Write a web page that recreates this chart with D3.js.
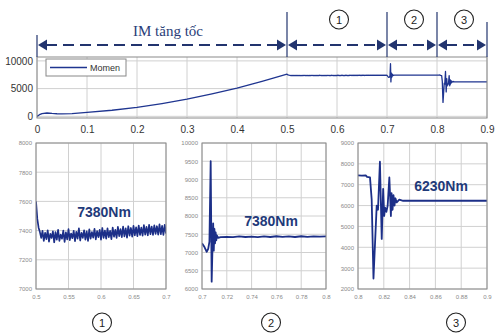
<!DOCTYPE html>
<html>
<head>
<meta charset="utf-8">
<script src="https://cdn.jsdelivr.net/npm/d3@7"></script>
<style>
  body { margin: 0; background: #fff; }
  svg { display: block; font-family: "Liberation Sans", Arial, sans-serif; }
</style>
</head>
<body>
<div id="chart"></div>
<script>
// top plot: acceleration ramp (time s, torque Nm)
var rampT = [0, 0.005, 0.01, 0.02, 0.03, 0.04, 0.05, 0.07, 0.1, 0.15, 0.2, 0.25, 0.3, 0.35, 0.4, 0.45, 0.5];
var rampV = [0, 300, 500, 600, 520, 470, 450, 500, 720, 1100, 1600, 2300, 3100, 4050, 5100, 6300, 7600];

// zone 1: steady torque, sampled every 2 ms from 0.5 s
var p1Start = 0.5, p1Step = 0.002;
var p1V = [7600, 7480, 7420, 7390, 7350,
  7398, 7330, 7385, 7342, 7402, 7325, 7378, 7350, 7395, 7320, 7390, 7338, 7405, 7330, 7372, 7345, 7400, 7322, 7388, 7340,
  7410, 7335, 7380, 7348, 7398, 7328, 7392, 7345, 7415, 7332, 7385, 7350, 7402, 7338, 7395, 7330, 7408, 7345, 7390, 7352,
  7412, 7340, 7396, 7355, 7405, 7338, 7418, 7350, 7400, 7345, 7415, 7355, 7398, 7342, 7420, 7358, 7405, 7350, 7425, 7362,
  7410, 7355, 7428, 7360, 7415, 7352, 7430, 7365, 7418, 7358, 7432, 7368, 7422, 7362, 7435, 7370, 7420, 7365, 7438, 7372,
  7425, 7368, 7440, 7375, 7428, 7370, 7436, 7378, 7430, 7372, 7442, 7375, 7432, 7370, 7440, 7380];

// zone 2
var p2T = [0.700, 0.702, 0.7038, 0.705, 0.706, 0.707, 0.7078, 0.7085, 0.709, 0.7095,
  0.710, 0.7105, 0.711, 0.7115, 0.712, 0.713, 0.715, 0.72, 0.725, 0.73,
  0.735, 0.74, 0.745, 0.75, 0.755, 0.76, 0.765, 0.77, 0.775, 0.78,
  0.785, 0.79, 0.795, 0.8];
var p2V = [7250, 7150, 7020, 7100, 7300, 9500, 6200, 7200, 7800, 7050,
  7650, 7250, 7550, 7330, 7470, 7400, 7420, 7430, 7420, 7440,
  7425, 7435, 7420, 7440, 7425, 7445, 7430, 7440, 7425, 7445,
  7430, 7440, 7435, 7440];

// zone 3
var p3T = [0.8, 0.803, 0.806, 0.807, 0.8093, 0.8106, 0.812, 0.8145, 0.8155, 0.817,
  0.8184, 0.8195, 0.8203, 0.821, 0.822, 0.823, 0.8243, 0.8255, 0.826, 0.8268,
  0.8275, 0.8283, 0.829, 0.830, 0.832, 0.835, 0.84, 0.85, 0.86, 0.87,
  0.88, 0.89, 0.9];
var p3V = [7450, 7440, 7450, 7380, 7350, 6300, 2500, 6000, 5800, 8100,
  4400, 6800, 5500, 5900, 5700, 6000, 7350, 5500, 6600, 5800,
  6500, 6000, 6350, 6150, 6280, 6230, 6230, 6230, 6230, 6230,
  6230, 6230, 6230];

// zone boundaries and labels
var zoneEdges = [0, 0.5, 0.7, 0.8, 0.9];
var zoneNames = ["IM tăng tốc", "1", "2", "3"];
var zoneValues = ["7380Nm", "7380Nm", "6230Nm"];

var topXTicks = [0, 0.1, 0.2, 0.3, 0.4, 0.5, 0.6, 0.7, 0.8, 0.9];
var topYTicks = [0, 5000, 10000];
var p1XTicks = [0.5, 0.55, 0.6, 0.65, 0.7];
var p1YTicks = [7000, 7200, 7400, 7600, 7800, 8000];
var p2XTicks = [0.7, 0.72, 0.74, 0.76, 0.78, 0.8];
var p2YTicks = [6000, 6500, 7000, 7500, 8000, 8500, 9000, 9500, 10000];
var p3XTicks = [0.8, 0.82, 0.84, 0.86, 0.88, 0.9];
var p3YTicks = [2000, 3000, 4000, 5000, 6000, 7000, 8000, 9000];

var p1 = p1V.map(function(v, i) { return [p1Start + i * p1Step, v]; });
var p2 = p2T.map(function(t, i) { return [t, p2V[i]]; });
var p3 = p3T.map(function(t, i) { return [t, p3V[i]]; });
var ramp = rampT.map(function(t, i) { return [t, rampV[i]]; });
var full = ramp.concat(p1.slice(1), p2.slice(1), p3.slice(1));

var navy = "#1f3590";
var dark = "#22346e";

var svg = d3.select("#chart").append("svg")
    .attr("width", 495)
    .attr("height", 334);

// generic plot box with grid, ticks and line
function drawPlot(cfg) {
    var x = d3.scaleLinear().domain(cfg.xDom).range([cfg.left, cfg.right]);
    var y = d3.scaleLinear().domain(cfg.yDom).range([cfg.bottom, cfg.top]);
    var g = svg.append("g");

    g.append("rect")
        .attr("x", cfg.left).attr("y", cfg.top)
        .attr("width", cfg.right - cfg.left).attr("height", cfg.bottom - cfg.top)
        .attr("fill", "#fff");

    g.selectAll(".gx").data(cfg.xTicks).enter().append("line")
        .attr("x1", x).attr("x2", x)
        .attr("y1", cfg.top).attr("y2", cfg.bottom)
        .attr("stroke", "#d0d0d0").attr("stroke-width", 1);
    g.selectAll(".gy").data(cfg.yTicks).enter().append("line")
        .attr("x1", cfg.left).attr("x2", cfg.right)
        .attr("y1", y).attr("y2", y)
        .attr("stroke", "#d0d0d0").attr("stroke-width", 1);

    var clipId = "clip" + cfg.id;
    g.append("clipPath").attr("id", clipId).append("rect")
        .attr("x", cfg.left).attr("y", cfg.top)
        .attr("width", cfg.right - cfg.left).attr("height", cfg.bottom - cfg.top);

    g.append("path")
        .datum(cfg.data)
        .attr("clip-path", "url(#" + clipId + ")")
        .attr("fill", "none")
        .attr("stroke", cfg.color)
        .attr("stroke-width", cfg.lineWidth)
        .attr("stroke-linejoin", "round")
        .attr("d", d3.line().x(function(d) { return x(d[0]); }).y(function(d) { return y(d[1]); }));

    g.append("rect")
        .attr("x", cfg.left).attr("y", cfg.top)
        .attr("width", cfg.right - cfg.left).attr("height", cfg.bottom - cfg.top)
        .attr("fill", "none").attr("stroke", "#8a8a8a").attr("stroke-width", 1);

    var ax = g.append("g")
        .attr("transform", "translate(0," + cfg.bottom + ")")
        .call(d3.axisBottom(x).tickValues(cfg.xTicks).tickSize(0).tickPadding(cfg.xPad).tickFormat(d3.format("")));
    var ay = g.append("g")
        .attr("transform", "translate(" + cfg.left + ",0)")
        .call(d3.axisLeft(y).tickValues(cfg.yTicks).tickSize(0).tickPadding(cfg.yPad).tickFormat(d3.format("")));
    [ax, ay].forEach(function(a) {
        a.select(".domain").remove();
        a.selectAll("text")
            .attr("font-size", cfg.fontSize)
            .attr("fill", cfg.tickColor)
            .attr("font-family", "'Liberation Sans', Arial, sans-serif");
    });
    return { x: x, y: y, g: g };
}

// top overview
var topP = drawPlot({
    id: "top", left: 37, right: 487, top: 57, bottom: 118,
    xDom: [0, 0.9], yDom: [-300, 10700],
    xTicks: topXTicks, yTicks: topYTicks, data: full,
    color: navy, lineWidth: 1.3, fontSize: 10, tickColor: "#333", xPad: 8, yPad: 4
});

// legend
svg.append("rect").attr("x", 46).attr("y", 59).attr("width", 80).attr("height", 17)
    .attr("fill", "#fff").attr("stroke", "#888").attr("stroke-width", 1);
svg.append("line").attr("x1", 50).attr("x2", 87).attr("y1", 67.5).attr("y2", 67.5)
    .attr("stroke", navy).attr("stroke-width", 1.3);
svg.append("text").attr("x", 90).attr("y", 71).attr("font-size", 9).attr("fill", "#333").text("Momen");

// zone markers above top plot
var xTop = topP.x;
var arrowY = 45;
var vTop = [35, 12, 12, 12, 22];
zoneEdges.forEach(function(e, i) {
    svg.append("line").attr("x1", xTop(e)).attr("x2", xTop(e))
        .attr("y1", vTop[i]).attr("y2", 57)
        .attr("stroke", dark).attr("stroke-width", 1.2);
});
for (var i = 0; i < zoneEdges.length - 1; i++) {
    var a = xTop(zoneEdges[i]), b = xTop(zoneEdges[i + 1]);
    svg.append("line")
        .attr("x1", a + 9).attr("x2", b - 9)
        .attr("y1", arrowY).attr("y2", arrowY)
        .attr("stroke", dark).attr("stroke-width", 2)
        .attr("stroke-dasharray", "11,6");
    svg.append("path")
        .attr("d", "M" + (a + 1) + "," + arrowY + "L" + (a + 10) + "," + (arrowY - 5.5) + "L" + (a + 10) + "," + (arrowY + 5.5) + "Z")
        .attr("fill", dark);
    svg.append("path")
        .attr("d", "M" + (b - 1) + "," + arrowY + "L" + (b - 10) + "," + (arrowY - 5.5) + "L" + (b - 10) + "," + (arrowY + 5.5) + "Z")
        .attr("fill", dark);
}
svg.append("text")
    .attr("x", 168).attr("y", 36)
    .attr("text-anchor", "middle")
    .attr("font-family", "'Liberation Serif', 'Times New Roman', serif")
    .attr("font-size", 15)
    .attr("fill", "#2a3d78")
    .text(zoneNames[0]);

function circled(cx, cy, label) {
    svg.append("circle").attr("cx", cx).attr("cy", cy).attr("r", 9.5)
        .attr("fill", "#fff").attr("stroke", "#222").attr("stroke-width", 1.1);
    svg.append("text").attr("x", cx).attr("y", cy + 4).attr("text-anchor", "middle")
        .attr("font-size", 11).attr("fill", "#222").text(label);
}
for (var k = 1; k < zoneNames.length; k++) {
    circled((xTop(zoneEdges[k]) + xTop(zoneEdges[k + 1])) / 2 + 2, 19.5, zoneNames[k]);
}

// zoomed panels
var panels = [
    { id: "p1", left: 36, right: 166, xDom: [0.5, 0.7], yDom: [7000, 8000], xTicks: p1XTicks, yTicks: p1YTicks, data: p1, lineWidth: 1.7 },
    { id: "p2", left: 202, right: 326, xDom: [0.7, 0.8], yDom: [6000, 10000], xTicks: p2XTicks, yTicks: p2YTicks, data: p2, lineWidth: 1.8 },
    { id: "p3", left: 358, right: 487, xDom: [0.8, 0.9], yDom: [2000, 9000], xTicks: p3XTicks, yTicks: p3YTicks, data: p3, lineWidth: 1.8 }
];
var valuePos = [[104, 217], [271, 226], [441, 191]];
var circlePos = [102, 271, 456];

panels.forEach(function(p, i) {
    p.top = 143; p.bottom = 289;
    p.color = "#1c2f88";
    p.fontSize = 6; p.tickColor = "#8a8a8a"; p.xPad = 6; p.yPad = 4;
    drawPlot(p);
    svg.append("text")
        .attr("x", valuePos[i][0]).attr("y", valuePos[i][1])
        .attr("text-anchor", "middle")
        .attr("font-size", 14).attr("font-weight", "bold")
        .attr("fill", "#1f3a7a")
        .text(zoneValues[i]);
    circled(circlePos[i], 322.5, zoneNames[i + 1]);
});
</script>
</body>
</html>
